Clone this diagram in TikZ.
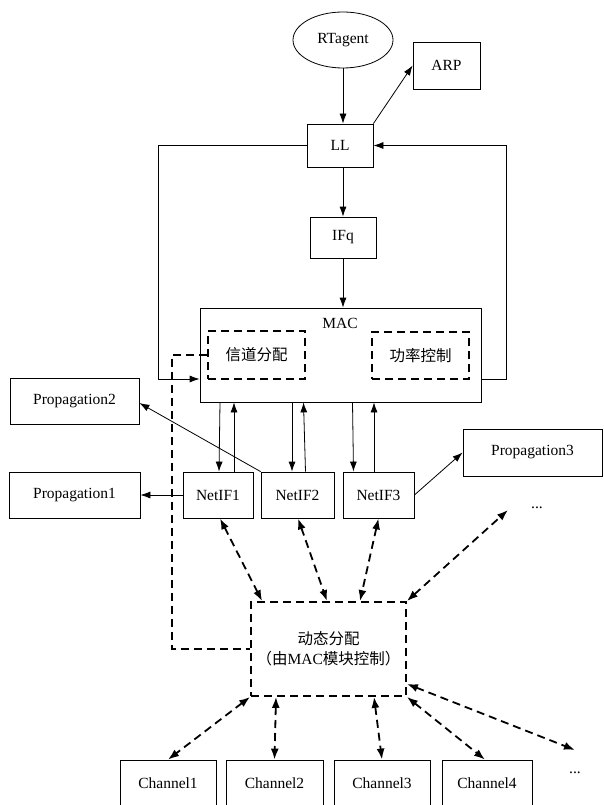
\documentclass[tikz,border=0pt]{standalone}
\usepackage{fontspec}
\setmainfont{Liberation Serif}
\newfontfamily\cjk{Noto Sans CJK SC}
\usepackage{tikz}
\usetikzlibrary{shapes,arrows.meta,positioning,calc}

\begin{document}
\begin{tikzpicture}[x=1pt, y=-1pt,
  every node/.style={font=\fontsize{15.5}{20}\selectfont, inner sep=0pt},
  box/.style={draw, line width=0.8pt, minimum height=46pt},
  dbox/.style={draw, line width=1.8pt, dash pattern=on 8pt off 5pt},
  line/.style={line width=0.8pt, -{Latex[length=10pt,width=7pt]}},
  dline/.style={line width=1.8pt, dash pattern=on 8pt off 5pt},
  darr/.style={dline, {Latex[length=11pt,width=8pt]}-{Latex[length=11pt,width=8pt]}}]
  \useasboundingbox (0,0) rectangle (603,805);

  % Upper stack
  \node[draw, ellipse, line width=0.8pt, minimum width=100pt, minimum height=56pt] (rtagent) at (343,40) {RTagent};
  \node[box, minimum width=67pt, minimum height=47pt] (arp) at (446.5,65.5) {ARP};
  \node[box, minimum width=66pt, minimum height=43pt] (ll) at (340,145.5) {LL};
  \node[box, minimum width=66pt, minimum height=41pt] (ifq) at (343,237.5) {IFq};

  % MAC
  \node[box, minimum width=281pt, minimum height=94pt] (mac) at (340.5,355) {};
  \node (maclbl) at (340,323) {MAC};
  \node[dbox, minimum width=97pt, minimum height=48pt] (chalo) at (256.5,355) {\cjk 信道分配};
  \node[dbox, minimum width=97pt, minimum height=47pt] (power) at (420.5,355.5) {\cjk 功率控制};

  % Network interfaces
  \node[box, minimum width=70pt] (netif1) at (218,495) {NetIF1};
  \node[box, minimum width=73pt] (netif2) at (297.5,495) {NetIF2};
  \node[box, minimum width=71pt] (netif3) at (378.5,495) {NetIF3};
  \node[box, minimum width=131pt] (prop1) at (74.5,495) {Propagation1};
  \node[box, minimum width=129pt] (prop2) at (74.5,401) {Propagation2};
  \node[box, minimum width=139pt, minimum height=47pt] (prop3) at (532.5,452.5) {Propagation3};
  \node (dotsA) at (537,508) {...};

  % Dynamic allocation
  \node[dbox, minimum width=155pt, minimum height=94pt, align=center] (dyn) at (328.5,649)
    {{\cjk 动态分配}\\{\cjk （由}MAC{\cjk 模块控制）}};

  % Channels
  \node[box, minimum width=96pt] (ch1) at (168,783) {Channel1};
  \node[box, minimum width=97pt] (ch2) at (274.5,783) {Channel2};
  \node[box, minimum width=96pt] (ch3) at (382,783) {Channel3};
  \node[box, minimum width=90pt] (ch4) at (487,783) {Channel4};
  \node (dotsB) at (575,773) {...};

  \coordinate (loopL) at (158,379);
  \coordinate (loopR) at (506,379);
  \coordinate (sideL) at (172,500);
  \coordinate (endA) at (508,510);
  \coordinate (endB) at (575,750);

  % Solid connectors
  \draw[line] (rtagent.south) -- (rtagent.south |- ll.north);
  \draw[line] (ll.north east) -- (arp.west);
  \draw[line] (ifq.north |- ll.south) -- (ifq.north);
  \draw[line] (ifq.south) -- (ifq.south |- mac.north);
  \draw[line] (ll.west) -| (loopL) -- (loopL -| mac.west);
  \draw[line] (loopR -| mac.east) -- (loopR) |- (ll.east);
  \draw[line] ([xshift=2pt]netif1.north |- mac.south) -- ([xshift=1pt]netif1.north);
  \draw[line] ([xshift=16pt]netif1.north) -- ([xshift=16pt]netif1.north |- mac.south);
  \draw[line] ([xshift=-5.5pt]netif2.north |- mac.south) -- ([xshift=-5.5pt]netif2.north);
  \draw[line] ([xshift=8pt]netif2.north) -- ([xshift=6pt]netif2.north |- mac.south);
  \draw[line] ([xshift=-26pt]netif3.north |- mac.south) -- ([xshift=-25pt]netif3.north);
  \draw[line] ([xshift=-4.5pt]netif3.north) -- ([xshift=-4.5pt]netif3.north |- mac.south);
  \draw[line] (netif1.west) -- (prop1.east);
  \draw[line] (netif2.north west) -- ([yshift=-2pt]prop2.east);
  \draw[line] (netif3.east) -- (prop3.west);

  % Dashed connectors
  \draw[dline] (chalo.west) -- (chalo.west -| sideL) -- (dyn.west -| sideL) -- (dyn.west);
  \draw[darr] ([xshift=2pt]netif1.south) -- ([xshift=12pt]dyn.north west);
  \draw[darr] ([xshift=0.5pt]netif2.south) -- ([xshift=-1.5pt]dyn.north);
  \draw[darr] (netif3.south) -- ([xshift=31.5pt]dyn.north);
  \draw[darr] (dyn.north east) -- (endA);
  \draw[darr] (dyn.south west) -- (ch1.north);
  \draw[darr] ([xshift=1.5pt]ch2.north |- dyn.south) -- (ch2.north);
  \draw[darr] ([xshift=-8pt]ch3.north |- dyn.south) -- (ch3.north);
  \draw[darr] (dyn.south east) -- ([xshift=-2pt]ch4.north);
  \draw[darr] ([yshift=13pt]dyn.south east) -- (endB);
\end{tikzpicture}
\end{document}
